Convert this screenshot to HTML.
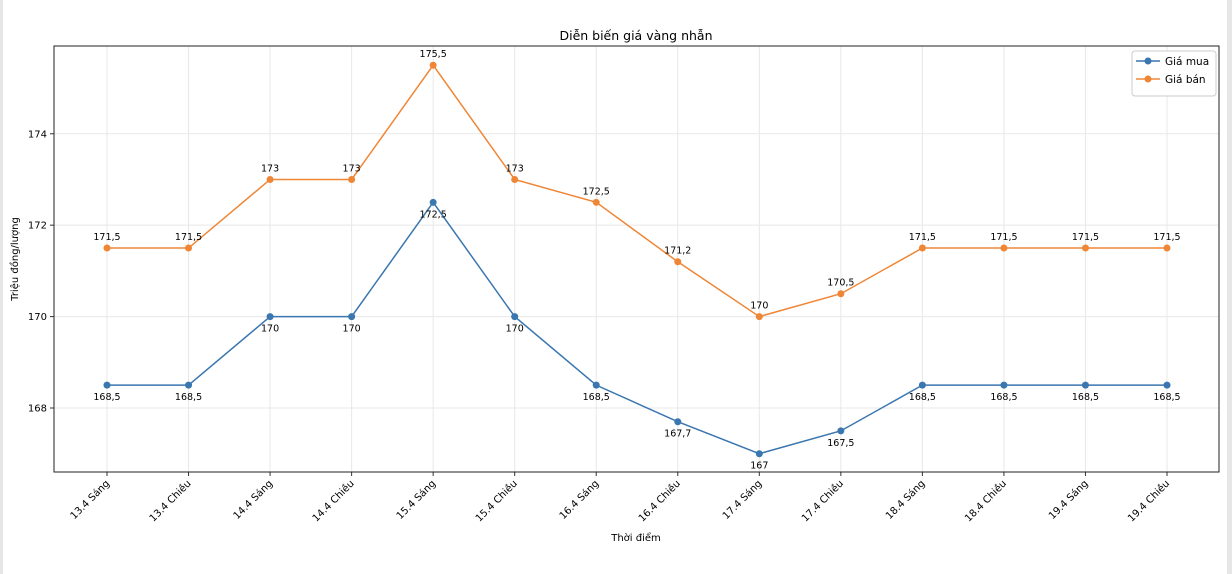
<!DOCTYPE html>
<html><head><meta charset="utf-8"><style>
body{margin:0;background:#fff;}
svg{display:block;font-family:"DejaVu Sans","Liberation Sans","Noto Sans CJK JP",sans-serif;}
</style></head><body>
<svg width="1232" height="574">
<rect x="0" y="0" width="1232" height="574" fill="#fff"/>
<rect x="0" y="0" width="3" height="574" fill="#e6e6e6"/>
<rect x="1227" y="0" width="5" height="574" fill="#e6e6e6"/>
<text x="636" y="40" text-anchor="middle" font-size="12.5">Diễn biến giá vàng nhẫn</text>
<g id="grid"></g>
<g id="axes"></g>
<g id="series"></g>
<text x="636" y="541" text-anchor="middle" font-size="10">Thời điểm</text>
<text transform="translate(18,259) rotate(-90)" text-anchor="middle" font-size="10">Triệu đồng/lượng</text>
<g>
<rect x="1132" y="51" width="84" height="45" rx="3" fill="#fff" stroke="#ccc"/>
<line x1="1136" y1="61" x2="1160" y2="61" stroke="#3a76af" stroke-width="1.5"/>
<circle cx="1148" cy="61" r="3.5" fill="#3a76af"/>
<text x="1165" y="65" font-size="10.5">Giá mua</text>
<line x1="1136" y1="79" x2="1160" y2="79" stroke="#ef8636" stroke-width="1.5"/>
<circle cx="1148" cy="79" r="3.5" fill="#ef8636"/>
<text x="1165" y="83" font-size="10.5">Giá bán</text>
</g>
</svg>
<script>
const categories=["13.4 Sáng","13.4 Chiều","14.4 Sáng","14.4 Chiều","15.4 Sáng","15.4 Chiều","16.4 Sáng","16.4 Chiều","17.4 Sáng","17.4 Chiều","18.4 Sáng","18.4 Chiều","19.4 Sáng","19.4 Chiều"];
const buyValues=[168.5,168.5,170,170,172.5,170,168.5,167.7,167,167.5,168.5,168.5,168.5,168.5];
const sellValues=[171.5,171.5,173,173,175.5,173,172.5,171.2,170,170.5,171.5,171.5,171.5,171.5];
const yTicks=[168,170,172,174];

const L=54,R=1219,T=46,B=472;
const x0=107,step=(1167-107)/13;
const yMin=166.6,yMax=175.92;
const xs=i=>x0+i*step;
const ys=v=>B-(v-yMin)/(yMax-yMin)*(B-T);
const NS="http://www.w3.org/2000/svg";
function mk(tag,attrs,parent,text){const e=document.createElementNS(NS,tag);for(const k in attrs)e.setAttribute(k,attrs[k]);if(text!==undefined)e.textContent=text;parent.appendChild(e);return e;}
const grid=document.getElementById('grid'),axes=document.getElementById('axes'),ser=document.getElementById('series');
categories.forEach((c,i)=>{
  const g=mk('line',{x1:xs(i),x2:xs(i),y1:T,y2:B,stroke:'#e8e8e8','stroke-width':1},grid);
  
  
  mk('line',{x1:xs(i),x2:xs(i),y1:B,y2:B+4,stroke:'#333'},axes);
  const t=mk('text',{x:xs(i)+3,y:B+12,'text-anchor':'end','font-size':10,transform:`rotate(-45 ${xs(i)+3} ${B+12})`},axes,c);
  
  
});
yTicks.forEach(v=>{
  const g=mk('line',{x1:L,x2:R,y1:ys(v),y2:ys(v),stroke:'#e8e8e8'},grid);
  
  
  mk('line',{x1:L-4,x2:L,y1:ys(v),y2:ys(v),stroke:'#333'},axes);
  const t=mk('text',{x:L-7,y:ys(v)+3.5,'text-anchor':'end','font-size':10},axes,String(v));
  
  
});
const frame=mk('rect',{x:L,y:T,width:R-L,height:B-T,fill:'none',stroke:'#222','stroke-width':1},axes);


function fmt(v){return String(v).replace('.',',');}
function draw(vals,color,name,above){
  const p=mk('polyline',{points:vals.map((v,i)=>xs(i)+','+ys(v)).join(' '),fill:'none',stroke:color,'stroke-width':1.5},ser);
  
  
  vals.forEach((v,i)=>{
    const c=mk('circle',{cx:xs(i),cy:ys(v),r:3.5,fill:color},ser);
    
    
    const t=mk('text',{x:xs(i),y:above?ys(v)-8:ys(v)+15,'text-anchor':'middle','font-size':9.5},ser,fmt(v));
    
    
  });
}
draw(buyValues,'#3a76af','buy',false);
draw(sellValues,'#ef8636','sell',true);
</script>
</body></html>
